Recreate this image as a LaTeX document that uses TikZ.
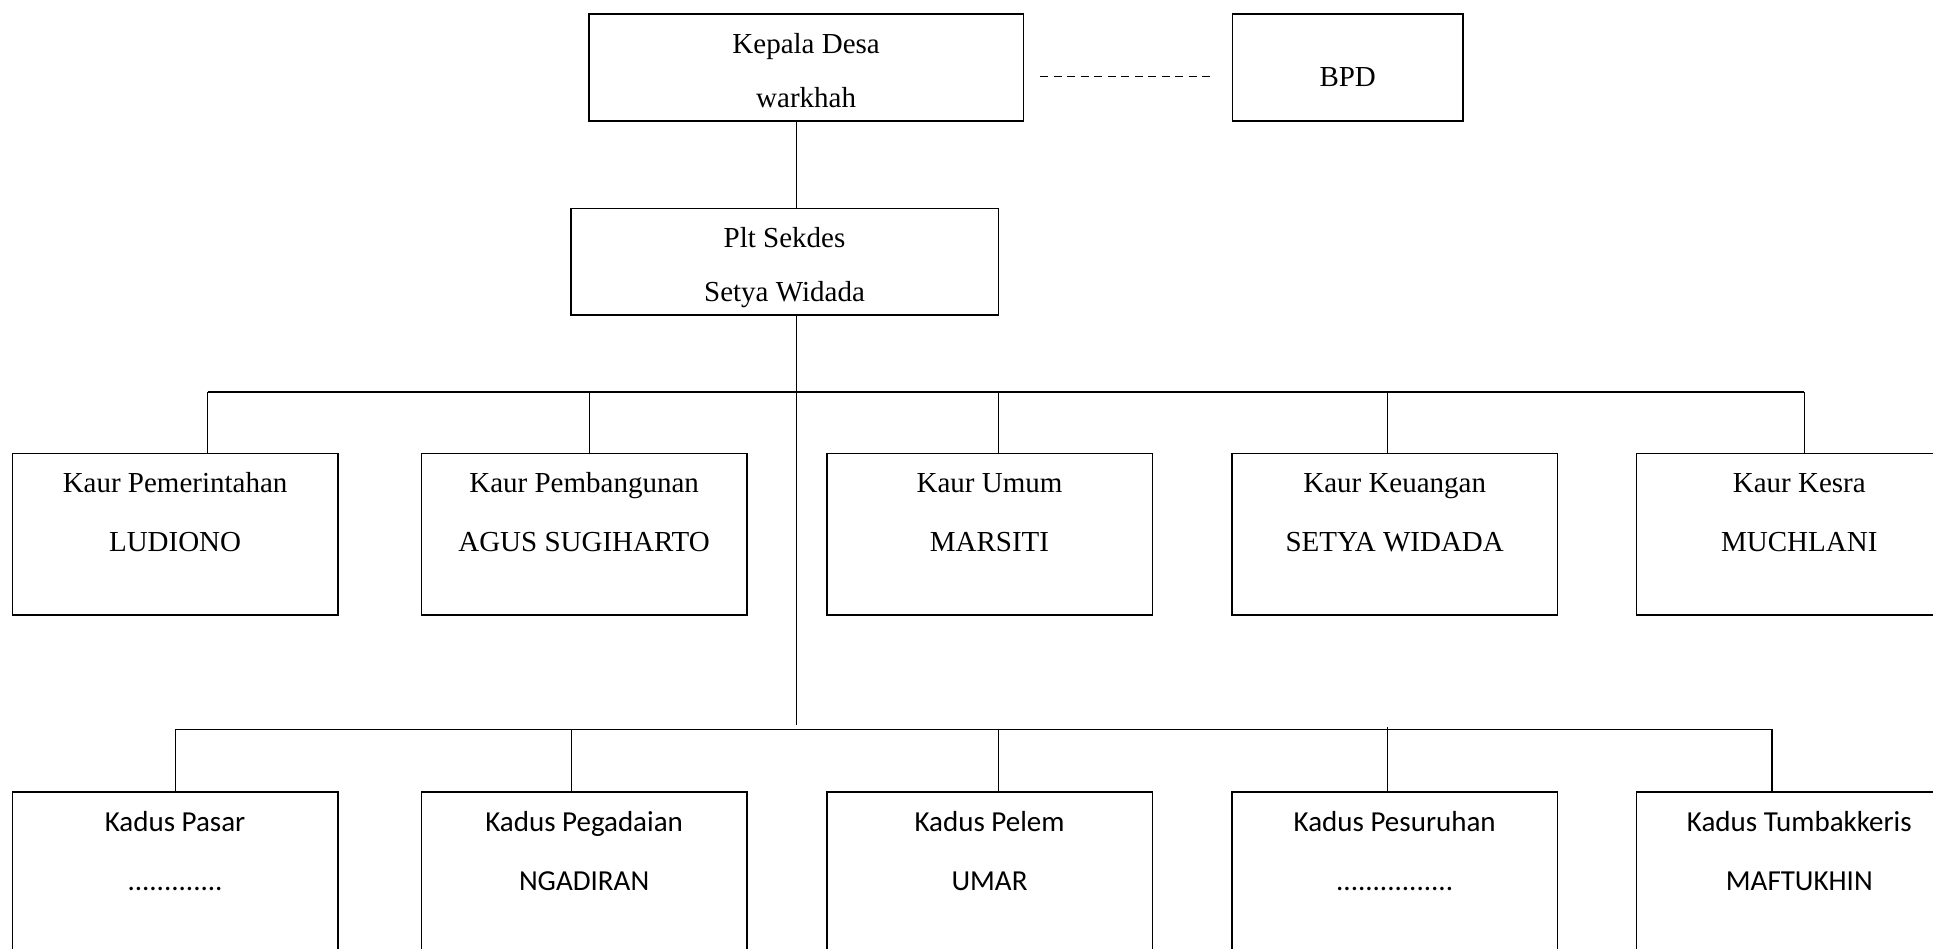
\documentclass[tikz,border=0pt]{standalone}
\usepackage{fontspec}
\setmainfont{Liberation Serif}
\newfontfamily\calibrifont{Carlito}
\begin{document}
\begin{tikzpicture}[x=1pt,y=-1pt,
  box/.style={draw, line width=1.4pt, inner sep=0pt},
  link/.style={line width=1.2pt},
  dashlink/.style={line width=1.2pt, dash pattern=on 8pt off 5.5pt},
  tt/.style={anchor=base, inner sep=0pt, font=\fontsize{29}{34}\selectfont},
  ct/.style={anchor=base, inner sep=0pt, font=\calibrifont\fontsize{29}{34}\selectfont}]
\useasboundingbox (0,0) rectangle (1933,948);
\clip (0,0) rectangle (1933,948);
\fill[white] (0,0) rectangle (1933,948);

% top boxes
\node[box, minimum width=434.6pt, minimum height=107pt] (kd) at (806.1,67.6) {};
\node[box, minimum width=230.3pt, minimum height=107pt] (bpd) at (1347.7,67.6) {};
\node[box, minimum width=427.4pt, minimum height=106.7pt] (plt) at (784.5,261.7) {};

\node[tt] (kdA) at ([yshift=-40pt]kd.north) {Kepala Desa};
\node[tt] (kdB) at ([yshift=-94.5pt]kd.north) {warkhah};
\node[tt] (bpdA) at ([yshift=-73.5pt]bpd.north) {BPD};
\node[tt] (pltA) at ([yshift=-39.7pt]plt.north) {Plt Sekdes};
\node[tt] (pltB) at ([yshift=-93.7pt]plt.north) {Setya Widada};

% Kaur boxes
\foreach \n/\cx in {k1/175.1, k2/584.1, k3/989.5, k4/1394.7, k5/1799.3}{
  \node[box, minimum width=325.4pt, minimum height=161.5pt] (\n) at (\cx,534.2) {};
}
\node[tt] (k1a) at ([yshift=-40.2pt]k1.north) {Kaur Pemerintahan};
\node[tt] (k1b) at ([yshift=-98.3pt]k1.north) {LUDIONO};
\node[tt] (k2a) at ([yshift=-40.2pt]k2.north) {Kaur Pembangunan};
\node[tt] (k2b) at ([yshift=-98.3pt]k2.north) {AGUS SUGIHARTO};
\node[tt] (k3a) at ([yshift=-40.2pt]k3.north) {Kaur Umum};
\node[tt] (k3b) at ([yshift=-98.3pt]k3.north) {MARSITI};
\node[tt] (k4a) at ([yshift=-40.2pt]k4.north) {Kaur Keuangan};
\node[tt] (k4b) at ([yshift=-98.3pt]k4.north) {SETYA WIDADA};
\node[tt] (k5a) at ([yshift=-40.2pt]k5.north) {Kaur Kesra};
\node[tt] (k5b) at ([yshift=-98.3pt]k5.north) {MUCHLANI};

% Kadus boxes
\foreach \n/\cx in {d1/175.1, d2/584.1, d3/989.5, d4/1394.7, d5/1799.3}{
  \node[box, minimum width=325.4pt, minimum height=168pt] (\n) at (\cx,875.8) {};
}
\node[ct] (d1a) at ([yshift=-40.3pt]d1.north) {Kadus Pasar};
\node[ct] (d1b) at ([yshift=-99.3pt]d1.north) {.............};
\node[ct] (d2a) at ([yshift=-40.3pt]d2.north) {Kadus Pegadaian};
\node[ct] (d2b) at ([yshift=-99.3pt]d2.north) {NGADIRAN};
\node[ct] (d3a) at ([yshift=-40.3pt]d3.north) {Kadus Pelem};
\node[ct] (d3b) at ([yshift=-99.3pt]d3.north) {UMAR};
\node[ct] (d4a) at ([yshift=-40.3pt]d4.north) {Kadus Pesuruhan};
\node[ct] (d4b) at ([yshift=-99.3pt]d4.north) {................};
\node[ct] (d5a) at ([yshift=-40.3pt]d5.north) {Kadus Tumbakkeris};
\node[ct] (d5b) at ([yshift=-99.3pt]d5.north) {MAFTUKHIN};

% connectors
\coordinate (dl) at (1040,76.7);
\coordinate (dr) at (1215,76.7);
\draw[dashlink] (dl) -- (dr);

\coordinate (m) at (796.6,392);
\coordinate (mend) at (796.6,724.5);
\draw[link] (m |- kd.south) -- (m |- plt.north);
\draw[link] (m |- plt.south) -- (mend);

% Kaur bus
\coordinate (j1) at (207.5,392);
\coordinate (j2) at (589.6,392);
\coordinate (j3) at (998.4,392);
\coordinate (j4) at (1387.4,392);
\coordinate (j5) at (1804.3,392);
\draw[link] (j1) -- (j5);
\draw[link] (j1) -- (j1 |- k1.north);
\draw[link] (j2) -- (j2 |- k2.north);
\draw[link] (j3) -- (j3 |- k3.north);
\draw[link] (j4) -- (j4 |- k4.north);
\draw[link] (j5) -- (j5 |- k5.north);

% Kadus bus
\coordinate (b1) at (175.6,729.3);
\coordinate (b2) at (571.6,729.3);
\coordinate (b3) at (998.4,729.3);
\coordinate (b4) at (1387.4,726.5);
\coordinate (b5) at (1772,729.3);
\draw[link] (b1) -- (b5);
\draw[link] (b1) -- (b1 |- d1.north);
\draw[link] (b2) -- (b2 |- d2.north);
\draw[link] (b3) -- (b3 |- d3.north);
\draw[link] (b4) -- (b4 |- d4.north);
\draw[link] (b5) -- (b5 |- d5.north);
\end{tikzpicture}
\end{document}
